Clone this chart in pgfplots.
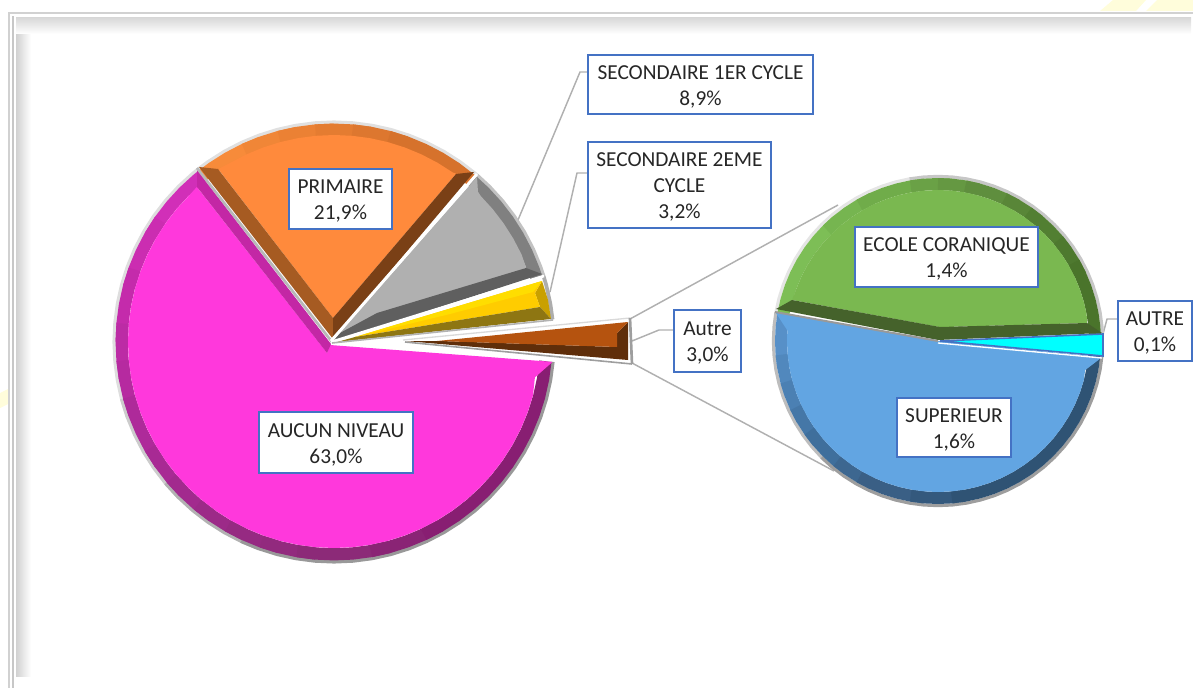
\documentclass[border=0pt]{standalone}
\usepackage{pgfplots}
\usepackage{pgfplotstable}
\usepackage{fontspec}
\setmainfont{Carlito}
\pgfplotsset{compat=1.18}
\definecolor{lblue}{HTML}{4472C4}
\definecolor{ltext}{HTML}{262626}
\definecolor{lead}{HTML}{B0B0B0}
\definecolor{pinkF}{HTML}{FF38DC}
\definecolor{pink1}{HTML}{D12FB8}
\definecolor{pink2}{HTML}{C42BAB}
\definecolor{pink3}{HTML}{AE2A9A}
\definecolor{pink4}{HTML}{9C2A88}
\definecolor{pink5}{HTML}{8C2A78}
\definecolor{pink6}{HTML}{881E72}
\definecolor{pinkS}{HTML}{C327A5}
\definecolor{oranF}{HTML}{FF8A3C}
\definecolor{oran1}{HTML}{F78B3A}
\definecolor{oran2}{HTML}{E47C31}
\definecolor{oran3}{HTML}{D6722C}
\definecolor{oranL}{HTML}{A65B22}
\definecolor{oranR}{HTML}{7A4016}
\definecolor{grayF}{HTML}{B0B0B0}
\definecolor{grayB}{HTML}{808080}
\definecolor{grayS}{HTML}{5F5F5F}
\definecolor{yelF}{HTML}{FFCC00}
\definecolor{yelT}{HTML}{FFDD00}
\definecolor{yelR}{HTML}{C9A000}
\definecolor{yelS}{HTML}{8E7612}
\definecolor{brnF}{HTML}{B5530F}
\definecolor{brnS}{HTML}{5F2E0A}
\definecolor{greF}{HTML}{7AB850}
\definecolor{gre1}{HTML}{7DBE56}
\definecolor{gre2}{HTML}{70AC4A}
\definecolor{gre3}{HTML}{5F8E3E}
\definecolor{gre4}{HTML}{527F32}
\definecolor{gre5}{HTML}{4A742B}
\definecolor{greS}{HTML}{45622B}
\definecolor{bluF}{HTML}{62A5E2}
\definecolor{blu1}{HTML}{5790C8}
\definecolor{blu2}{HTML}{4B80B3}
\definecolor{blu3}{HTML}{3F6F9C}
\definecolor{blu4}{HTML}{3A5F85}
\definecolor{blu5}{HTML}{2F5374}
\definecolor{cyanF}{HTML}{00FFFF}
% Shares: 63.0 / 21.9 / 8.9 / 3.2 / 3.0 and 1.4 / 1.6 / 0.1 of the second pie.
% Angles of the slices (degrees, counter-clockwise).
\pgfplotstableread[row sep=\\]{a\\5.9\\10\\15\\17.4\\20\\25\\30\\35\\40\\45\\49.4\\50\\55\\60\\65\\70\\75\\80\\85\\90\\95\\100\\105\\110\\115\\120\\125\\128.2\\130\\135\\140\\145\\150\\155\\160\\165\\170\\175\\180\\185\\190\\195\\200\\205\\210\\215\\220\\225\\230\\235\\240\\245\\250\\255\\260\\265\\270\\275\\280\\285\\290\\295\\300\\305\\310\\315\\320\\325\\330\\335\\340\\345\\350\\354.8\\}\mainArc
\pgfplotstableread[row sep=\\]{a\\2.4\\5\\10\\15\\20\\25\\30\\35\\40\\45\\50\\55\\60\\65\\70\\75\\80\\85\\90\\95\\100\\105\\110\\115\\120\\125\\130\\135\\140\\145\\150\\155\\160\\165\\170\\175\\180\\185\\190\\195\\200\\205\\210\\215\\220\\225\\230\\235\\240\\245\\250\\255\\260\\265\\270\\275\\280\\285\\290\\295\\300\\305\\310\\315\\320\\325\\330\\335\\340\\345\\350\\354.7\\}\subArc
\pgfplotstableread[row sep=\\]{a r\\92.4 24\\123.8 208\\120 207\\115 207\\110 207\\105 207\\100 207\\95 207\\90 207\\85 207\\80 207\\75 207\\70 207\\65 207\\60 207\\55 207\\54 208\\}\faceOrange
\pgfplotstableread[row sep=\\]{a r\\46.2 208\\45 207\\40 207\\35 207\\30 207\\25 207\\21.1 206\\34 52\\56 11\\}\faceGray
\pgfplotstableread[row sep=\\]{a r\\131.5 207\\135 206\\140 206\\145 206\\150 206\\155 206\\160 206\\165 206\\170 206\\175 206\\180 206\\185 206\\190 206\\195 206\\200 206\\205 206\\210 206\\215 206\\220 206\\225 206\\230 206\\235 206\\240 206\\245 206\\250 206\\255 206\\260 206\\265 206\\270 206\\275 206\\280 206\\285 206\\290 206\\295 206\\300 206\\305 206\\310 206\\315 206\\320 206\\325 206\\330 206\\335 206\\340 206\\345 206\\350 204\\354.8 219.5\\216.9 5\\237.5 13\\}\facePink
\pgfplotstableread[row sep=\\]{a r\\164.3 151.6\\160 151\\155 151\\150 151\\145 151\\140 151\\135 151\\130 151\\125 151\\120 151\\115 151\\110 151\\105 151\\100 151\\95 151\\90 151\\85 151\\80 151\\75 151\\70 151\\65 151\\60 151\\55 151\\50 151\\45 151\\40 151\\35 151\\30 151\\25 151\\20 151\\15 151\\10 151\\6.9 150\\81.9 14\\}\faceGreen
\pgfplotstableread[row sep=\\]{a r\\170 165\\176 151\\180 151\\185 151\\190 151\\195 151\\200 151\\205 151\\210 151\\215 151\\220 151\\225 151\\230 151\\235 151\\240 151\\245 151\\250 151\\255 151\\260 151\\265 151\\270 151\\275 151\\280 151\\285 151\\290 151\\295 151\\300 151\\305 151\\310 151\\315 151\\320 151\\325 151\\330 151\\335 151\\340 151\\345 151\\348.8 150\\354.4 165\\0 0\\}\faceBlue
% polygons given in polar form around the centre of a pie
\newcommand{\polyMain}[2]{\addplot[fill=#1,draw=none] table[x expr=334+\thisrow{r}*cos(\thisrow{a}),y expr=342-\thisrow{r}*sin(\thisrow{a})] {#2};}
\newcommand{\polySub}[2]{\addplot[fill=#1,draw=none] table[x expr=938+\thisrow{r}*cos(\thisrow{a}),y expr=341-\thisrow{r}*sin(\thisrow{a})] {#2};}
% arcs: lo, hi, radius, width (pt), colour
\newcommand{\bandMain}[5]{\addplot[draw=#5,line width=#4pt,line cap=butt,line join=round,restrict expr to domain={\thisrow{a}}{#1:#2}] table[x index=0,y index=0,x expr=334+#3*cos(\thisrow{a}),y expr=342-#3*sin(\thisrow{a})] {\mainArc};}
\newcommand{\bandSub}[5]{\addplot[draw=#5,line width=#4pt,line cap=butt,line join=round,restrict expr to domain={\thisrow{a}}{#1:#2}] table[x index=0,y index=0,x expr=938+#3*cos(\thisrow{a}),y expr=341-#3*sin(\thisrow{a})] {\subArc};}
\newcommand{\poly}[2]{\addplot[fill=#1,draw=none] coordinates {#2};}
\newcommand{\seg}[3]{\addplot[draw=#1,line width=#2pt,line cap=butt] coordinates {#3};}
\newcommand{\lab}[5]{\draw[draw=lblue,line width=1.9pt,fill=white] (axis cs:#1,#3) rectangle node[yshift=-1.6pt,align=center,inner sep=0pt,text=ltext,font=\fontsize{16}{19.6}\selectfont] {#5} (axis cs:#2,#4);}
\begin{document}
\begin{tikzpicture}
\begin{axis}[at={(0,0)},anchor=south west,width=894.75pt,height=516pt,scale only axis,
  xmin=0,xmax=1193,ymin=0,ymax=688,y dir=reverse,hide axis,no markers,every axis plot/.append style={forget plot}]
% watermark
\poly{yellow!14}{(1100,11)(1113,0)(1146,0)(1136,11)}
\poly{yellow!14}{(1146,11)(1157,0)(1193,0)(1193,11)}
\poly{yellow!14}{(0,393)(8,389)(8,404)(0,408)}
% frame
\fill[left color=black!18,right color=white] (axis cs:16,18) rectangle (axis cs:31,676);
\fill[top color=black!15,bottom color=white] (axis cs:16,18) rectangle (axis cs:1191,34);
\seg{black!18}{2}{(9,688)(9,13)(1193,13)}
\seg{black!22}{1.2}{(13,688)(13,16)}
% leader lines
\seg{lead}{1.1}{(588,72)(580,72)(518,220)}
\seg{lead}{1.1}{(588,173)(577,173)(550,292)}
\seg{lead}{1.1}{(632,341)(659,330)(674,330)}
\seg{lead}{1.1}{(630,319)(838,205)}
\seg{lead}{1.1}{(632,363)(834,471)}
\seg{lead}{1.1}{(1103,334)(1107,319)(1118,319)}
% rims of the first pie
\bandMain{128.1}{200}{219.7}{2.8}{black!13}
\bandMain{195}{225}{219.7}{2.8}{black!20}
\bandMain{220}{250}{219.7}{2.8}{black!30}
\bandMain{245}{354.9}{219.7}{2.8}{black!40}
\bandMain{49.3}{128.3}{219.7}{2.8}{black!12}
\bandMain{17.3}{49.5}{219.7}{2.8}{black!24}
\bandMain{5.8}{17.5}{219.7}{2.8}{black!32}
% pink slice: 63,0 %
\bandMain{128.1}{150}{212.3}{9.2}{pink1}
\bandMain{145}{165}{212.3}{9.2}{pink1!50!pink2}
\bandMain{160}{180}{212.3}{9.2}{pink2}
\bandMain{175}{190}{212.3}{9.2}{pink2!65!pink3}
\bandMain{185}{200}{212.3}{9.2}{pink2!35!pink3}
\bandMain{195}{215}{212.3}{9.2}{pink3}
\bandMain{210}{225}{212.3}{9.2}{pink3!65!pink4}
\bandMain{220}{235}{212.3}{9.2}{pink3!35!pink4}
\bandMain{230}{245}{212.3}{9.2}{pink4}
\bandMain{240}{255}{212.3}{9.2}{pink4!65!pink5}
\bandMain{250}{265}{212.3}{9.2}{pink4!35!pink5}
\bandMain{260}{285}{212.3}{9.2}{pink5}
\bandMain{280}{300}{212.3}{9.2}{pink5!50!pink6}
\bandMain{295}{354.9}{212.3}{9.2}{pink6}
\polyMain{pinkF}{\facePink}
\poly{pinkS}{(197,170)(197,187)(327,353)(331,344)}
% orange slice: 21,9 %
\bandMain{110}{128.3}{212.3}{9.2}{oran1}
\bandMain{100}{115}{212.3}{9.2}{oran1!65!oran2}
\bandMain{90}{105}{212.3}{9.2}{oran1!35!oran2}
\bandMain{80}{95}{212.3}{9.2}{oran2}
\bandMain{70}{85}{212.3}{9.2}{oran2!50!oran3}
\bandMain{49.3}{75}{212.3}{9.2}{oran3}
\polyMain{oranF}{\faceOrange}
\poly{oranL}{(199,167)(218,169)(333,318)(333,339)}
\poly{oranR}{(333,339)(333,318)(456,174)(474,172)}
% grey slice: 8,9 %
\bandMain{17.3}{49.5}{212.3}{9.2}{grayB}
\poly{grayF}{(335,338)(477,177)(478,192)(526,268)}
\polyMain{grayF}{\faceGray}
\poly{grayS}{(332,342)(340,333)(377,313)(526,268)(542,274)}
% yellow slice: 3,2 %
\poly{yelR}{(542,281)(535,293)(540,307)(551,319)(548,300)}
\poly{yelF}{(355,337)(542,281)(535,293)(540,307)}
\poly{yelT}{(355,337)(542,281)(533,292)(450,314)}
\poly{yelS}{(337,342)(355,337)(540,307)(551,319)}
% separators of the first pie
\seg{black!28}{2}{(197,168)(332,342)}
\seg{white}{2.2}{(331,341)(477,174)}
\seg{white}{2}{(331,342)(544,276)}
\seg{black!30}{1.2}{(332,343)(553,320)}
% brown slice, drawn apart: 3,0 %
\seg{black!15}{1}{(403,340)(630,318)}
\poly{brnS}{(405,341)(440,341)(617,347)(617,333)(628,322)(628,360)}
\poly{brnF}{(437,341)(628,322)(617,333)(617,347)}
\seg{black!38}{1.2}{(405,342)(632,364)}
\seg{black!38}{2}{(630,318)(632,364)}
% second pie: rim
\bandSub{100}{170}{164.6}{2.4}{black!10}
\bandSub{2.4}{100}{164.6}{2.4}{black!22}
\bandSub{170}{230}{164.6}{2.4}{black!26}
\bandSub{225}{354.8}{164.6}{2.4}{black!38}
% green: 1,4 %
\bandSub{130}{170}{157}{9}{gre1}
\bandSub{115}{135}{157}{9}{gre1!50!gre2}
\bandSub{95}{120}{157}{9}{gre2}
\bandSub{85}{100}{157}{9}{gre2!65!gre3}
\bandSub{75}{90}{157}{9}{gre2!35!gre3}
\bandSub{60}{80}{157}{9}{gre3}
\bandSub{50}{65}{157}{9}{gre3!50!gre4}
\bandSub{35}{55}{157}{9}{gre4}
\bandSub{25}{40}{157}{9}{gre4!50!gre5}
\bandSub{2.3}{30}{157}{9}{gre5}
\polySub{greF}{\faceGreen}
\poly{greS}{(776,309)(792,300)(940,327)(1087,323)(1102,333)(938,340)}
% blue: 1,6 %
\bandSub{169.9}{190}{157}{9}{blu1}
\bandSub{185}{200}{157}{9}{blu1!50!blu2}
\bandSub{195}{210}{157}{9}{blu2}
\bandSub{205}{220}{157}{9}{blu2!50!blu3}
\bandSub{215}{235}{157}{9}{blu3}
\bandSub{230}{245}{157}{9}{blu3!50!blu4}
\bandSub{240}{265}{157}{9}{blu4}
\bandSub{260}{280}{157}{9}{blu4!50!blu5}
\bandSub{275}{354.8}{157}{9}{blu5}
\polySub{bluF}{\faceBlue}
\seg{black!40}{1.5}{(775,312)(938,341)}
\seg{white}{1}{(938,343)(1102,358)}
% autre: 0,1 %
\addplot[fill=cyanF,draw=lblue,line width=1.2pt] coordinates {(940,341)(1103,334)(1103,356)(940,341)};
% labels
\lab{588}{813}{55}{114}{SECONDAIRE 1ER CYCLE\\8,9\%}
\lab{588}{771}{142}{228}{SECONDAIRE 2EME\\CYCLE\\3,2\%}
\lab{289}{392}{169}{229}{PRIMAIRE\\21,9\%}
\lab{259}{413}{412}{473}{AUCUN NIVEAU\\63,0\%}
\lab{674}{741}{310}{372}{Autre\\3,0\%}
\lab{855}{1038}{227}{287}{ECOLE CORANIQUE\\1,4\%}
\lab{897}{1011}{398}{457}{SUPERIEUR\\1,6\%}
\lab{1118}{1192}{301}{361}{AUTRE\\0,1\%}
\end{axis}
\pgfresetboundingbox
\path[use as bounding box] (0,0) rectangle (894.75pt,516pt);
\end{tikzpicture}
\end{document}
